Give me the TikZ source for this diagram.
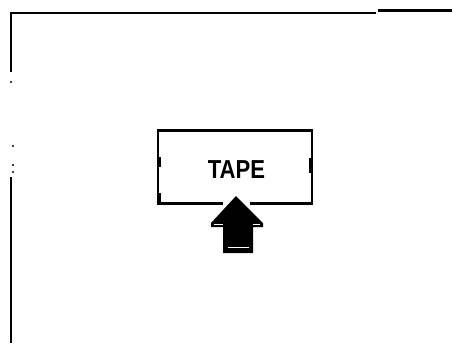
\documentclass[tikz,border=0pt]{standalone}
\usepackage{fontspec}
\setmainfont{Liberation Sans}
\begin{document}
\begin{tikzpicture}[x=1pt,y=-1pt,
  wire/.style={line width=2.2pt,black},
  boxline/.style={line width=2.2pt,black},
  thick seg/.style={line width=3.8pt,black},
  dotmark/.style={fill=black,inner sep=0pt,minimum size=2.4pt,circle},
  label/.style={font=\bfseries\fontsize{26}{26}\selectfont,inner sep=0pt,xscale=0.85}]
\useasboundingbox (0,0) rectangle (452,343);
% outer frame
\coordinate (tl) at (11,13);
\coordinate (tr1) at (376,13);
\coordinate (tr2a) at (378,10.5);
\coordinate (tr2b) at (452,10.5);
\coordinate (l1) at (11,72);
\coordinate (l2) at (11,177);
\coordinate (l3) at (11,343);
\draw[wire] (l1) -- (tl) -- (tr1);
\draw[wire] (tr2a) -- (tr2b);
\draw[wire] (l2) -- (l3);
\node[dotmark] (d1) at (11,82) {};
\node[dotmark] (d2) at (13,146) {};
\node[dotmark] (d3) at (13,165) {};
\node[dotmark] (d4) at (13,172) {};
% tape box
\coordinate (b1) at (223,203.5);
\coordinate (b2) at (158,203.5);
\coordinate (b3) at (158,130.5);
\coordinate (b4) at (312,130.5);
\coordinate (b5) at (312,203.5);
\coordinate (b6) at (250,203.5);
\draw[boxline] (b1) -- (b2) -- (b3) -- (b4) -- (b5) -- (b6);
\draw[thick seg] (159,157) -- (159,167);
\draw[thick seg] (159,193) -- (159,203);
\draw[thick seg] (311,158) -- (311,173);
\node[label] (tape) at (236.5,170) {TAPE};
% arrow
\fill[black] (236,196) -- (263,223) -- (263,227) -- (253,227) -- (253,253) -- (223,253) -- (223,227) -- (211,227) -- (211,223) -- cycle;
\draw[white,line width=1.6pt] (214,224.5) -- (223,224.5);
\draw[white,line width=1.6pt] (253,224.5) -- (260,224.5);
\draw[white,line width=1.5pt] (228,247.5) -- (249,247.5);
\end{tikzpicture}
\end{document}
